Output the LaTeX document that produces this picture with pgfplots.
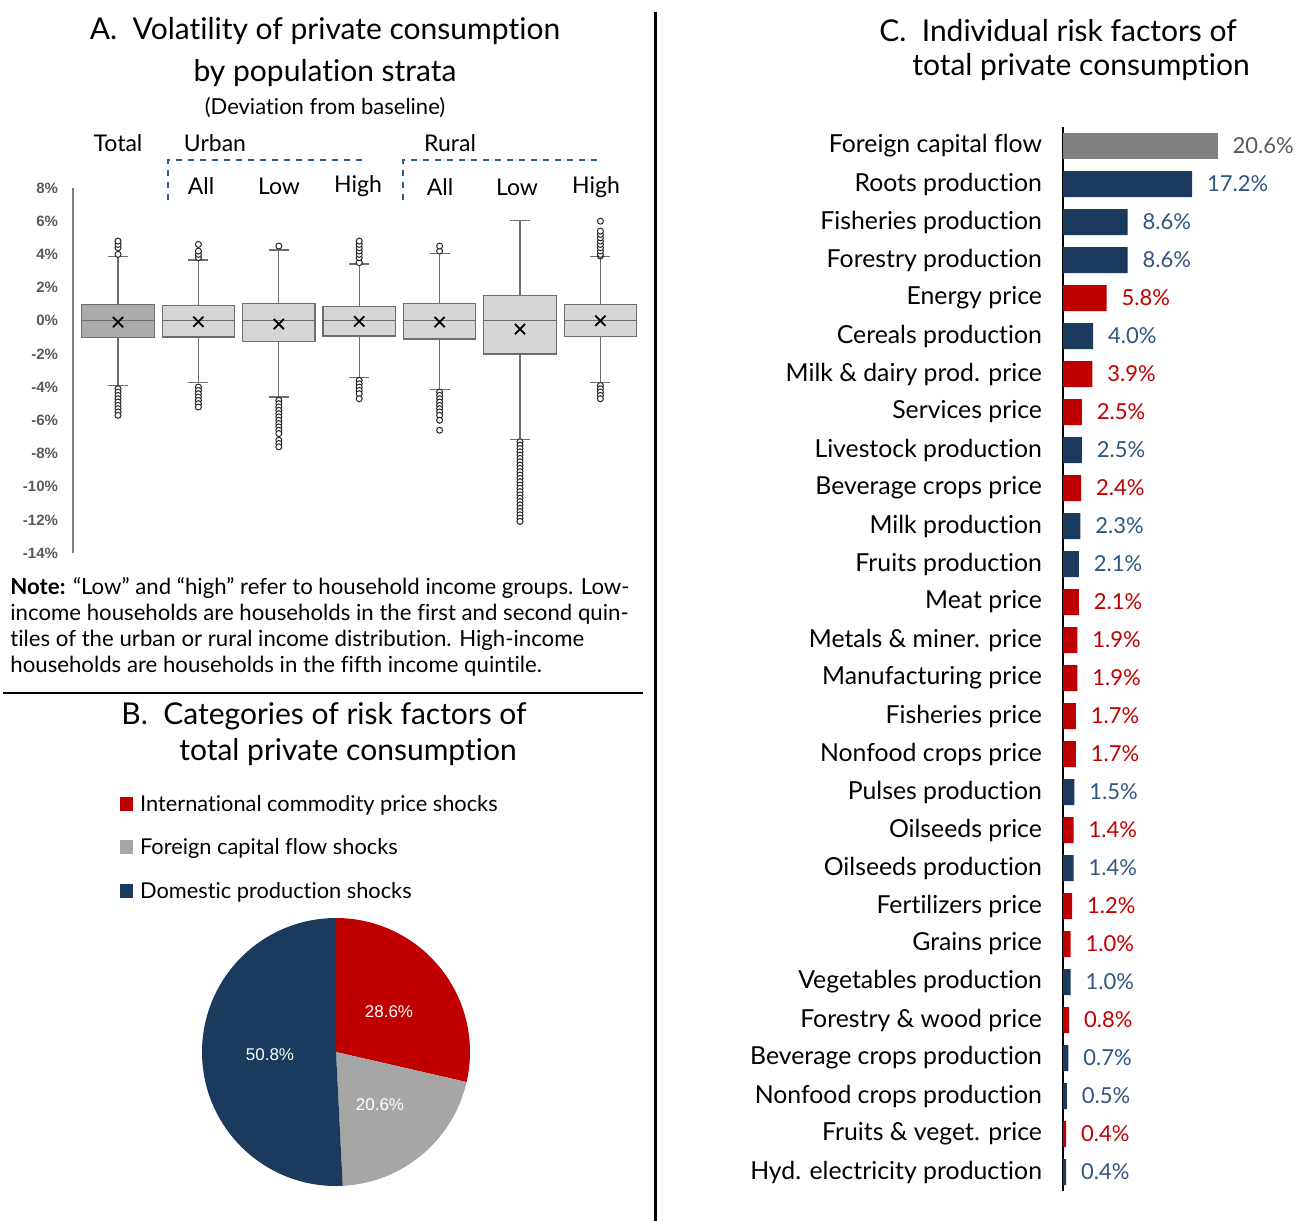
\documentclass[border=0pt]{standalone}
\usepackage{pgfplots}
\pgfplotsset{compat=1.18}
\usepackage{pgfplotstable}
\usepgfplotslibrary{statistics}
\usepackage{fontspec}
\setmainfont{Lato}[Ligatures=NoCommon]
\newfontfamily\arial{Liberation Sans}
\definecolor{navy}{HTML}{1A3A5E}
\definecolor{cred}{HTML}{C00000}
\definecolor{cgray}{HTML}{808080}
\definecolor{piegray}{HTML}{A6A6A6}
\definecolor{bluelab}{HTML}{2F5580}
\definecolor{boxlight}{HTML}{D6D6D6}
\definecolor{boxdark}{HTML}{ABABAB}
\definecolor{boxedge}{HTML}{6E6E6E}
\definecolor{dashblue}{HTML}{2E5C8A}
\definecolor{tickgray}{HTML}{595959}

\pgfplotstableread{
y v
1 20.6
}\grayT
\pgfplotstableread{
y v
2 17.2
3 8.6
4 8.6
6 4.0
9 2.5
11 2.3
12 2.1
18 1.5
20 1.4
23 1.0
25 0.7
26 0.5
28 0.4
}\blueT
\pgfplotstableread{
y v
5 5.8
7 3.9
8 2.5
10 2.4
13 2.1
14 1.9
15 1.9
16 1.7
17 1.7
19 1.4
21 1.2
22 1.0
24 0.8
27 0.4
}\redT

% pie shares (%)
\def\pieRed{28.6}
\def\pieGray{20.6}
\def\pieBlue{50.8}

\pgfplotsset{
  bx/.style={fill=boxlight, draw=boxedge, line width=0.6pt, mark=*, mark size=1.5pt,
    mark options={fill=white, draw=black!85, line width=0.5pt, solid}},
}

\begin{document}
\begin{tikzpicture}[x=0.5pt,y=-0.5pt]
\path[use as bounding box] (0,0) rectangle (1296,1221);

% dividers
\draw[line width=1.5pt] (655,12) -- (655,1221);
\draw[line width=1pt] (3,693) -- (643,693);

% ---------------- Panel A ----------------
\node[font=\fontsize{15}{18}\selectfont] at (325,31) {A.\ \ Volatility of private consumption};
\node[font=\fontsize{15}{18}\selectfont] at (325,73) {by population strata};
\node[font=\fontsize{11}{13}\selectfont] at (325,108) {(Deviation from baseline)};

\begin{axis}[at={(36.5pt,-276.5pt)}, anchor=south west, scale only axis,
  width=283.8pt, height=182.5pt,
  xmin=0.44, xmax=7.5, ymin=-14, ymax=8,
  boxplot/draw direction=y,
  axis x line=none, axis y line=left,
  y axis line style={-, draw=gray, line width=0.6pt},
  xtick=\empty, ytick={-14,-12,...,8},
  major tick length=0pt,
  /pgf/number format/assume math mode=true,
  yticklabel={\pgfmathprintnumber{\tick}\%},
  yticklabel style={font=\arial\bfseries\fontsize{7.5}{8}\selectfont, text=tickgray, xshift=-4pt},
  clip=false]
\addplot[bx, fill=boxdark, boxplot prepared={draw position=1, median=0, upper quartile=0.96, lower quartile=-1.0, upper whisker=3.86, lower whisker=-3.88, box extend=0.9, whisker extend=0.25}]
 table[row sep=\\, y index=0] {d\\ 4.0\\ 4.4\\ 4.6\\ 4.8\\ -4.1\\ -4.3\\ -4.5\\ -4.7\\ -4.9\\ -5.1\\ -5.3\\ -5.5\\ -5.7\\};
\addplot[bx, boxplot prepared={draw position=2, median=0, upper quartile=0.9, lower quartile=-0.98, upper whisker=3.66, lower whisker=-3.74, box extend=0.9, whisker extend=0.25}]
 table[row sep=\\, y index=0] {d\\ 3.8\\ 4.0\\ 4.2\\ 4.6\\ -4.0\\ -4.2\\ -4.4\\ -4.6\\ -4.8\\ -5.0\\ -5.2\\};
\addplot[bx, boxplot prepared={draw position=3, median=0, upper quartile=1.06, lower quartile=-1.24, upper whisker=4.26, lower whisker=-4.6, box extend=0.9, whisker extend=0.25}]
 table[row sep=\\, y index=0] {d\\ 4.5\\ -4.8\\ -5.0\\ -5.2\\ -5.4\\ -5.6\\ -5.8\\ -6.0\\ -6.2\\ -6.4\\ -6.6\\ -6.8\\ -7.2\\ -7.4\\ -7.6\\};
\addplot[bx, boxplot prepared={draw position=4, median=0, upper quartile=0.84, lower quartile=-0.92, upper whisker=3.42, lower whisker=-3.44, box extend=0.9, whisker extend=0.25}]
 table[row sep=\\, y index=0] {d\\ 3.5\\ 3.8\\ 4.0\\ 4.2\\ 4.4\\ 4.6\\ 4.8\\ -3.6\\ -3.8\\ -4.0\\ -4.2\\ -4.4\\ -4.7\\};
\addplot[bx, boxplot prepared={draw position=5, median=0, upper quartile=1.02, lower quartile=-1.1, upper whisker=4.06, lower whisker=-4.14, box extend=0.9, whisker extend=0.25}]
 table[row sep=\\, y index=0] {d\\ 4.2\\ 4.5\\ -4.3\\ -4.5\\ -4.7\\ -4.9\\ -5.1\\ -5.3\\ -5.5\\ -5.7\\ -6.0\\ -6.6\\};
\addplot[bx, boxplot prepared={draw position=6, median=0, upper quartile=1.5, lower quartile=-2.0, upper whisker=6.06, lower whisker=-7.14, box extend=0.9, whisker extend=0.25}]
 table[row sep=\\, y index=0] {d\\ -7.3\\ -7.5\\ -7.7\\ -7.9\\ -8.1\\ -8.3\\ -8.5\\ -8.7\\ -8.9\\ -9.1\\ -9.3\\ -9.5\\ -9.7\\ -9.9\\ -10.1\\ -10.3\\ -10.5\\ -10.7\\ -10.9\\ -11.1\\ -11.3\\ -11.5\\ -11.7\\ -11.9\\ -12.1\\};
\addplot[bx, boxplot prepared={draw position=7, median=0, upper quartile=0.96, lower quartile=-0.94, upper whisker=3.86, lower whisker=-3.7, box extend=0.9, whisker extend=0.25}]
 table[row sep=\\, y index=0] {d\\ 3.9\\ 4.0\\ 4.2\\ 4.4\\ 4.6\\ 4.8\\ 5.0\\ 5.2\\ 5.4\\ 6.0\\ -3.9\\ -4.1\\ -4.3\\ -4.5\\ -4.7\\};
% means
\addplot[only marks, mark=x, mark size=3.6pt, line width=0.9pt, black]
 coordinates {(1,-0.08) (2,-0.06) (3,-0.2) (4,-0.04) (5,-0.08) (6,-0.5) (7,0)};
\end{axis}

% group headers
\begin{scope}[font=\fontsize{11.5}{13}\selectfont]
\node at (118,143) {Total};
\node at (215,143) {Urban};
\node at (450,143) {Rural};
\node at (201,186) {All};
\node at (279,186) {Low};
\node at (358,186) {High};
\node at (440,187) {All};
\node at (517,187) {Low};
\node at (596,187) {High};
\end{scope}
\draw[dashblue, dashed, line width=0.9pt] (168,200) -- (168,160) -- (366,160);
\draw[dashblue, dashed, line width=0.9pt] (403,200) -- (403,160) -- (598,160);

% note
\begin{scope}[font=\fontsize{11.1}{13}\selectfont, inner sep=0pt]
\node[anchor=base west] at (10,594) {\textbf{Note:} “Low” and “high” refer to household income groups. Low-};
\node[anchor=base west] at (10,620) {income households are households in the first and second quin-};
\node[anchor=base west] at (10,646) {tiles of the urban or rural income distribution. High-income};
\node[anchor=base west] at (10,672) {households are households in the fifth income quintile.};
\end{scope}

% ---------------- Panel B ----------------
\node[font=\fontsize{15}{18}\selectfont] at (324,716) {B.\ \ Categories of risk factors of};
\node[font=\fontsize{15}{18}\selectfont] at (348,752) {total private consumption};

\fill[cred] (120,797) rectangle (133,811);
\fill[piegray] (120,840) rectangle (133,854);
\fill[navy] (120,884) rectangle (133,898);
\begin{scope}[font=\fontsize{10.9}{12}\selectfont]
\node[anchor=west] at (133,805) {International commodity price shocks};
\node[anchor=west] at (133,848) {Foreign capital flow shocks};
\node[anchor=west] at (133,892) {Domestic production shocks};
\end{scope}

\begin{axis}[at={(168pt,-526pt)}, anchor=center, scale only axis,
  width=134pt, height=134pt, xmin=-1, xmax=1, ymin=-1, ymax=1,
  hide axis, clip=false]
\pgfmathsetmacro\aR{90-3.6*\pieRed}
\pgfmathsetmacro\aG{\aR-3.6*\pieGray}
\pgfmathsetmacro\aB{\aG-3.6*\pieBlue}
\fill[cred] (axis cs:0,0) -- +(90:67pt) arc[start angle=90, end angle=\aR, radius=67pt] -- cycle;
\fill[piegray] (axis cs:0,0) -- +(\aR:67pt) arc[start angle=\aR, end angle=\aG, radius=67pt] -- cycle;
\fill[navy] (axis cs:0,0) -- +(\aG:67pt) arc[start angle=\aG, end angle=\aB, radius=67pt] -- cycle;
\end{axis}
\begin{scope}[font=\arial\fontsize{8.5}{10}\selectfont, text=white]
\node at (389,1012) {28.6\%};
\node at (380,1105) {20.6\%};
\node at (270,1055) {50.8\%};
\end{scope}

% ---------------- Panel C ----------------
\node[font=\fontsize{15}{18}\selectfont] at (1058,31) {C.\ \ Individual risk factors of};
\node[font=\fontsize{15}{18}\selectfont] at (1081,67) {total private consumption};

\begin{axis}[at={(531.5pt,-595.5pt)}, anchor=south west, scale only axis,
  width=112.5pt, height=532pt,
  xmin=0, xmax=30, ymin=0.5, ymax=28.5, y dir=reverse,
  xbar, bar width=13pt, bar shift=0pt,
  axis x line=none, axis y line=left,
  y axis line style={-, line width=0.7pt},
  ytick={1,...,28}, major tick length=0pt,
  yticklabels={Foreign capital flow, Roots production, Fisheries production, Forestry production,
    Energy price, Cereals production, Milk \& dairy prod. price, Services price,
    Livestock production, Beverage crops price, Milk production, Fruits production,
    Meat price, Metals \& miner. price, Manufacturing price, Fisheries price,
    Nonfood crops price, Pulses production, Oilseeds price, Oilseeds production,
    Fertilizers price, Grains price, Vegetables production, Forestry \& wood price,
    Beverage crops production, Nonfood crops production, Fruits \& veget. price,
    Hyd. electricity production},
  yticklabel style={font=\fontsize{12.4}{13}\selectfont, xshift=-7pt},
  /pgf/number format/assume math mode=true,
  point meta=x,
  nodes near coords={\pgfmathprintnumber[fixed, fixed zerofill, precision=1]{\pgfplotspointmeta}\%},
  nodes near coords style={font=\fontsize{11}{12}\selectfont, anchor=west, xshift=4pt},
  clip=false]
\addplot[fill=cgray, draw=none, nodes near coords style={text=tickgray}] table[x=v, y=y] {\grayT};
\addplot[fill=navy, draw=none, nodes near coords style={text=bluelab}] table[x=v, y=y] {\blueT};
\addplot[fill=cred, draw=none, nodes near coords style={text=cred}] table[x=v, y=y] {\redT};
\end{axis}

\end{tikzpicture}
\end{document}
